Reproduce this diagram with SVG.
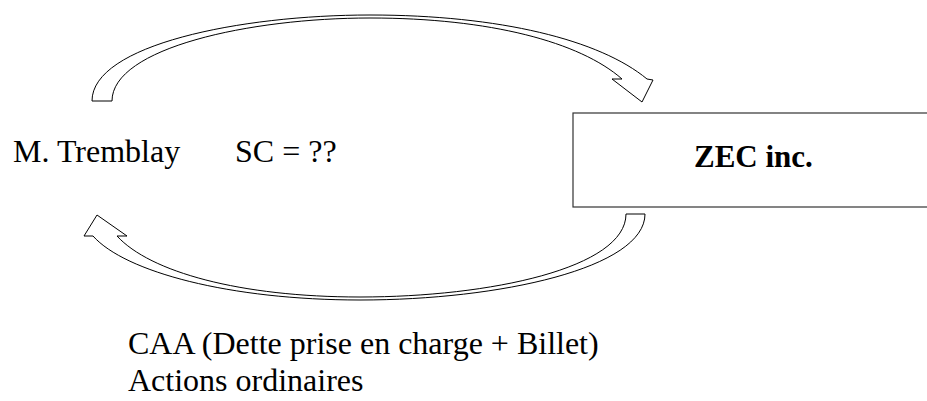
<svg xmlns="http://www.w3.org/2000/svg" width="927" height="401" viewBox="0 0 927 401">
<style>
.t{font-family:"Liberation Serif","Times New Roman",serif;font-size:32px;fill:#000}
.b{font-weight:bold;font-size:31px}
.arrow{fill:#fff;stroke:#000;stroke-width:1;stroke-linejoin:miter}
.box{fill:#fff;stroke:#333;stroke-width:1.2}
</style>
<rect width="927" height="401" fill="#fff"/>
<g id="connectors">
<path id="arrow-top" class="arrow" d="M92,101 C92,45 240,15 370,15 C500,15 600,40 647,79 L653,80 L642,102 L612,79 L622,79 C580,42 490,18 370,18 C250,18 112,48 112,101 Z"/>
<path id="arrow-bottom" class="arrow" d="M645,214 C645,268 500,300 360,300 C230,300 125,272 93,236 L84,236 L97,215 L127,236 L117,236 C150,272 240,297 360,297 C490,297 626,268 626,214 Z"/>
</g>
<g id="node-tremblay">
<text class="t" x="13" y="162">M. Tremblay</text>
</g>
<g id="label-sc">
<text class="t" x="235" y="162">SC = ??</text>
</g>
<g id="node-zec">
<rect class="box" x="573" y="113" width="360" height="94"/>
<text class="t b" x="694" y="167">ZEC inc.</text>
</g>
<g id="label-bottom">
<text class="t" x="128" y="354">CAA (Dette prise en charge + Billet)</text>
<text class="t" x="128" y="391">Actions ordinaires</text>
</g>
</svg>
